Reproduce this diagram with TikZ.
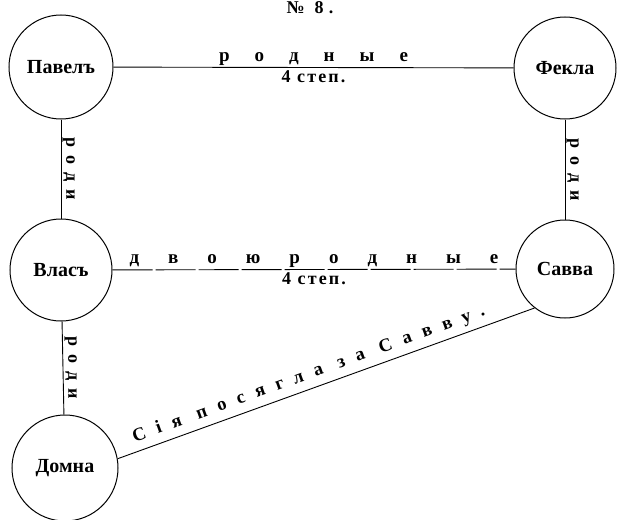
\documentclass[tikz,border=0pt]{standalone}
\usepackage{fontspec}
\setmainfont{Liberation Serif}
\newfontfamily\diagfont[LetterSpace=62]{Liberation Serif}
\newfontfamily\stepfont[LetterSpace=12]{Liberation Serif}
\newfontfamily\titlefont[LetterSpace=30]{Liberation Serif}
\begin{document}
\begin{tikzpicture}[x=1pt,y=-1pt,
  person/.style={circle,draw,line width=1pt,inner sep=0pt,font=\bfseries\fontsize{20}{20}\selectfont},
  lbl/.style={font=\bfseries\fontsize{19}{19}\selectfont,inner sep=1pt},
  steplbl/.style={font=\bfseries\fontsize{18}{18}\stepfont,inner sep=1pt},
  vlbl/.style={font=\bfseries\fontsize{18}{18}\selectfont,inner sep=1pt,rotate=-90,anchor=south},
  conn/.style={line width=0.9pt}]
\useasboundingbox (0,0) rectangle (620,519);
\node[font=\bfseries\fontsize{18}{18}\titlefont,anchor=base] (T) at (310,14) {№ 8.};
\node[person,minimum size=104pt] (P) at (61,67) {Павелъ};
\node[person,minimum size=102pt] (F) at (565,68) {Фекла};
\node[person,minimum size=102pt] (V) at (61,270) {Власъ};
\node[person,minimum size=98pt] (S) at (565,269) {Савва};
\node[person,minimum size=106pt] (D) at (65,468) {Домна};
\draw[conn] (P) -- (F)
  node[midway,above=1pt,lbl] {р\hspace{25pt}о\hspace{25pt}д\hspace{25pt}н\hspace{25pt}ы\hspace{25pt}е}
  node[midway,below=2pt,steplbl] {4 степ.};
\draw[conn] (P) -- (V) node[midway,vlbl] {р\hspace{8pt}о\hspace{8pt}д\hspace{8pt}и};
\draw[conn] (F) -- (S) node[midway,vlbl] {р\hspace{8pt}о\hspace{8pt}д\hspace{8pt}и};
\draw[conn] (V) -- (D) node[midway,vlbl] {р\hspace{8pt}о\hspace{8pt}д\hspace{8pt}и};
\draw[conn,dash pattern=on 40pt off 3pt] (V) -- (S)
  node[midway,above=1pt,lbl] {д\hspace{29pt}в\hspace{29pt}о\hspace{29pt}ю\hspace{29pt}р\hspace{29pt}о\hspace{29pt}д\hspace{29pt}н\hspace{29pt}ы\hspace{29pt}е}
  node[midway,below=2pt,steplbl] {4 степ.};
\draw[conn] (D.10) -- (S.232)
  node[pos=0.47,sloped,above=2pt,font=\bfseries\fontsize{18.5}{18.5}\diagfont] {Сія посягла за Савву.};
\end{tikzpicture}
\end{document}
